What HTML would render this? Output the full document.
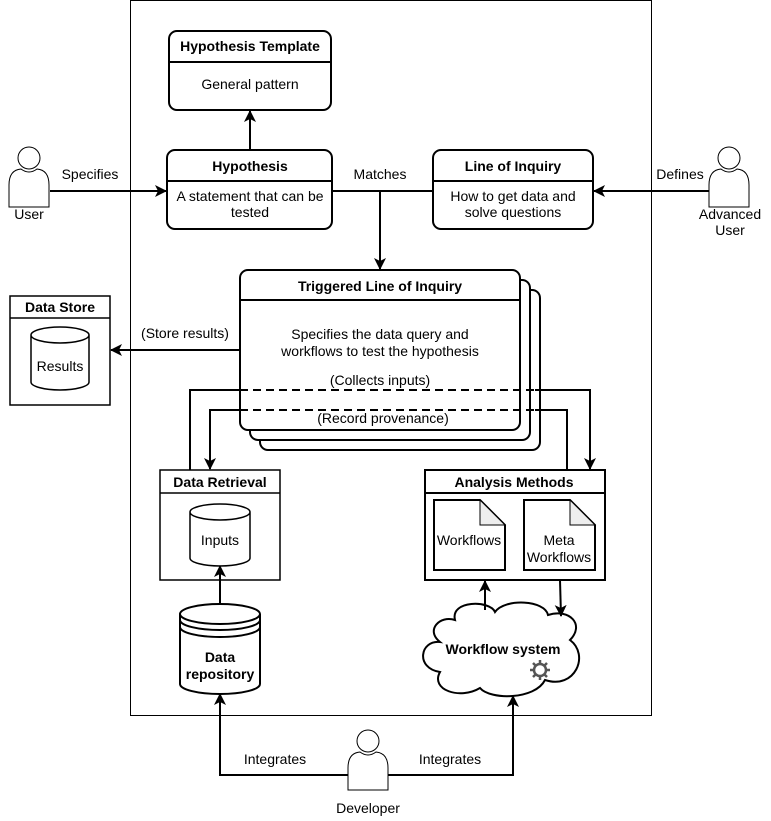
<!DOCTYPE html>
<html><head><style>body{margin:0;background:#fff}svg{display:block}text{font-family:"Liberation Sans",sans-serif;font-size:14px;fill:#000}.b{font-weight:bold}</style></head>
<body>
<svg width="771" height="821" viewBox="0 0 771 821" xmlns="http://www.w3.org/2000/svg">
<defs>
<marker id="a" markerWidth="12" markerHeight="12" refX="11" refY="6" orient="auto" markerUnits="userSpaceOnUse"><path d="M0,0 L12,6 L0,12 L3,6 Z" fill="#000"/></marker>
<symbol id="p" viewBox="0 0 40 62" overflow="visible"><circle cx="20" cy="13" r="11" fill="#fff" stroke="#000"/><path d="M0,62 L0,40 Q0,25 12,24 Q20,30 28,24 Q40,25 40,40 L40,62 Z" fill="#fff" stroke="#000"/></symbol>
</defs>
<rect x="130.5" y="0.5" width="521" height="715" fill="none" stroke="#000"/>
<g fill="none" stroke="#000" stroke-width="2">
<rect x="169" y="31" width="162" height="79" rx="8" fill="#fff"/><line x1="169" y1="62" x2="331" y2="62"/>
<rect x="167" y="150" width="165" height="79" rx="8" fill="#fff"/><line x1="167" y1="181" x2="332" y2="181"/>
<rect x="433" y="150" width="160" height="79" rx="8" fill="#fff"/><line x1="433" y1="181" x2="593" y2="181"/>
<line x1="250" y1="150" x2="250" y2="111" marker-end="url(#a)"/>
<line x1="50" y1="191" x2="166" y2="191" marker-end="url(#a)"/>
<line x1="710" y1="191" x2="594" y2="191" marker-end="url(#a)"/>
<line x1="332" y1="191" x2="433" y2="191"/>
<line x1="380" y1="191" x2="380" y2="269" marker-end="url(#a)"/>
<rect x="260" y="290" width="280" height="160" rx="8" fill="#fff"/>
<rect x="250" y="280" width="280" height="160" rx="8" fill="#fff"/>
<rect x="240" y="270" width="280" height="160" rx="8" fill="#fff"/>
<line x1="240" y1="300" x2="520" y2="300"/>
<line x1="240" y1="350" x2="111" y2="350" marker-end="url(#a)"/>
<line x1="240" y1="390" x2="535" y2="390" stroke-dasharray="8,5"/>
<line x1="240" y1="410" x2="535" y2="410" stroke-dasharray="8,5"/>
<polyline points="240,390 190,390 190,470"/>
<polyline points="240,410 210,410 210,469" marker-end="url(#a)"/>
<polyline points="535,390 590,390 590,469" marker-end="url(#a)"/>
<polyline points="535,410 567,410 567,470"/>
</g>
<g fill="#fff" stroke="#000" stroke-width="1.5">
<rect x="10" y="296" width="100" height="109"/><line x1="10" y1="318" x2="110" y2="318"/>
<path d="M31,335 L31,382 A29,8 0 0 0 89,382 L89,335 A29,8 0 0 0 31,335 A29,8 0 0 0 89,335"/>
<rect x="160" y="470" width="120" height="110"/><line x1="160" y1="493" x2="280" y2="493"/>
<path d="M190,512 L190,558 A30,8 0 0 0 250,558 L250,512 A30,8 0 0 0 190,512 A30,8 0 0 0 250,512"/>
</g>
<g fill="#fff" stroke="#000" stroke-width="2">
<rect x="425" y="470" width="180" height="110"/><line x1="425" y1="493" x2="605" y2="493"/>
<path d="M434,500 L480,500 L505,525 L505,570 L434,570 Z"/><path d="M480,500 L480,525 L505,525 Z" fill="#eee" stroke-width="1"/>
<path d="M524,500 L570,500 L595,525 L595,570 L524,570 Z"/><path d="M570,500 L570,525 L595,525 Z" fill="#eee" stroke-width="1"/>
<path d="M180,614 L180,684 A40,10 0 0 0 260,684 L260,614 A40,10 0 0 0 180,614 A40,10 0 0 0 260,614 M180,620 A40,10 0 0 0 260,620 M180,627 A40,10 0 0 0 260,627"/>
<line x1="220" y1="605" x2="220" y2="566" marker-end="url(#a)"/>
<path d="M455,620 C450,600 490,600 495,612 C505,598 545,600 548,615 C570,608 585,625 570,640 C590,655 575,690 545,680 C535,700 490,700 480,688 C460,700 430,690 440,672 C415,668 420,640 440,642 C425,630 440,615 455,620 Z"/>
<line x1="485" y1="610" x2="485" y2="581" marker-end="url(#a)"/>
<line x1="560" y1="580" x2="561" y2="616" marker-end="url(#a)"/>
<polyline points="350,775 220,775 220,694" fill="none" marker-end="url(#a)"/>
<polyline points="380,775 513,775 513,696" fill="none" marker-end="url(#a)"/>
</g>
<g fill="none" stroke="#555" stroke-width="2.5"><circle cx="540" cy="670" r="6"/><path d="M540,660v4M540,676v4M530,670h4M546,670h4M533,663l3,3M544,674l3,3M533,677l3,-3M544,666l3,-3"/></g>
<use href="#p" x="9" y="145" width="40" height="62"/>
<use href="#p" x="709" y="145" width="40" height="62"/>
<use href="#p" x="348" y="728" width="40" height="62"/>
<g text-anchor="middle">
<text x="250" y="51" class="b">Hypothesis Template</text><text x="250" y="89">General pattern</text>
<text x="250" y="171" class="b">Hypothesis</text><text x="250" y="201">A statement that can be</text><text x="250" y="217">tested</text>
<text x="513" y="171" class="b">Line of Inquiry</text><text x="513" y="201">How to get data and</text><text x="513" y="217">solve questions</text>
<text x="90" y="179">Specifies</text><text x="29" y="219">User</text>
<text x="680" y="179">Defines</text><text x="730" y="219">Advanced</text><text x="730" y="235">User</text>
<text x="380" y="179">Matches</text>
<text x="380" y="291" class="b">Triggered Line of Inquiry</text>
<text x="380" y="339">Specifies the data query and</text><text x="380" y="356">workflows to test the hypothesis</text>
<text x="380" y="385">(Collects inputs)</text><text x="383" y="423">(Record provenance)</text>
<text x="185" y="338">(Store results)</text>
<text x="60" y="312" class="b">Data Store</text><text x="60" y="371">Results</text>
<text x="220" y="487" class="b">Data Retrieval</text><text x="220" y="545">Inputs</text>
<text x="514" y="487" class="b">Analysis Methods</text>
<text x="469" y="545">Workflows</text><text x="559" y="545">Meta</text><text x="559" y="562">Workflows</text>
<text x="220" y="662" class="b">Data</text><text x="220" y="679" class="b">repository</text>
<text x="503" y="654" class="b">Workflow system</text>
<text x="275" y="764">Integrates</text><text x="450" y="764">Integrates</text>
<text x="368" y="813">Developer</text>
</g>
</svg>
</body></html>
